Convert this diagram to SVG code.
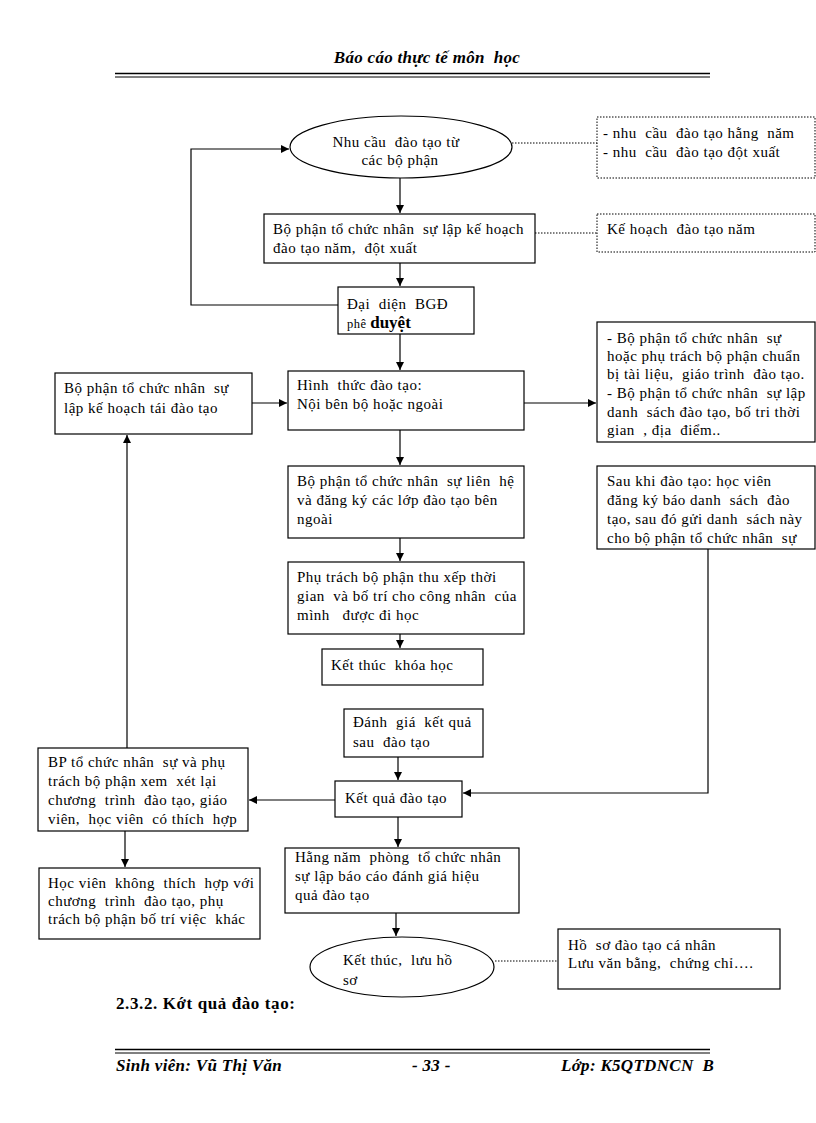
<svg xmlns="http://www.w3.org/2000/svg" width="816" height="1123" viewBox="0 0 816 1123">
<style>
.t{font-family:"Liberation Serif","Times New Roman",serif;font-size:15px;letter-spacing:0.5px;fill:#000;white-space:pre}
.b{fill:#fff;stroke:#000;stroke-width:1.2}
.d{fill:#fff;stroke:#000;stroke-width:1;stroke-dasharray:1.5 1.5}
.l{fill:none;stroke:#000;stroke-width:1.2}
.dl{fill:none;stroke:#000;stroke-width:1;stroke-dasharray:1.5 1.5}
.hd{font-family:"Liberation Serif","Times New Roman",serif;font-size:17px;font-weight:bold;font-style:italic;fill:#000;letter-spacing:0.3px;white-space:pre}
</style>
<defs>
<marker id="ah" markerWidth="8" markerHeight="8" refX="8" refY="4" orient="auto" markerUnits="userSpaceOnUse">
<path d="M0,0 L8,4 L0,8 z" fill="#000"/>
</marker>
</defs>
<rect width="816" height="1123" fill="#fff"/>

<g id="header">
<text class="hd" x="427" y="63" text-anchor="middle">Báo cáo thực tế môn  học</text>
<line x1="115" y1="73.5" x2="710" y2="73.5" stroke="#000" stroke-width="1.5"/>
<line x1="115" y1="77" x2="710" y2="77" stroke="#000" stroke-width="1"/>
</g>

<g id="connectors">
<line class="l" x1="400" y1="178" x2="400" y2="213" marker-end="url(#ah)"/>
<line class="l" x1="400" y1="263" x2="400" y2="286" marker-end="url(#ah)"/>
<polyline class="l" points="338,305 191,305 191,149 289,149" marker-end="url(#ah)"/>
<line class="l" x1="400" y1="334" x2="400" y2="370" marker-end="url(#ah)"/>
<line class="l" x1="252" y1="403" x2="287" y2="403" marker-end="url(#ah)"/>
<line class="l" x1="524" y1="403" x2="596" y2="403" marker-end="url(#ah)"/>
<line class="l" x1="400" y1="430" x2="400" y2="465" marker-end="url(#ah)"/>
<line class="l" x1="400" y1="538" x2="400" y2="561" marker-end="url(#ah)"/>
<line class="l" x1="400" y1="634" x2="400" y2="648" marker-end="url(#ah)"/>
<line class="l" x1="398" y1="757" x2="398" y2="780" marker-end="url(#ah)"/>
<polyline class="l" points="708,549 708,793 463,793" marker-end="url(#ah)"/>
<line class="l" x1="335" y1="800" x2="249" y2="800" marker-end="url(#ah)"/>
<line class="l" x1="127" y1="748" x2="127" y2="435" marker-end="url(#ah)"/>
<line class="l" x1="125" y1="831" x2="125" y2="867" marker-end="url(#ah)"/>
<line class="l" x1="398" y1="817" x2="398" y2="847" marker-end="url(#ah)"/>
<line class="l" x1="396" y1="913" x2="396" y2="936" marker-end="url(#ah)"/>
<line class="dl" x1="512" y1="143" x2="597" y2="143"/>
<line class="dl" x1="535" y1="233" x2="597" y2="233"/>
<line class="dl" x1="495" y1="961" x2="558" y2="961"/>
</g>

<g id="n1">
<ellipse class="b" cx="401" cy="147" rx="111" ry="31"/>
<text class="t" x="396" y="147" text-anchor="middle">Nhu cầu  đào tạo từ</text>
<text class="t" x="400" y="165" text-anchor="middle">các bộ phận</text>
</g>
<g id="n1note">
<rect class="d" x="597" y="117" width="218" height="61"/>
<text class="t" x="603" y="138">- nhu  cầu  đào tạo hằng  năm</text>
<text class="t" x="603" y="157">- nhu  cầu  đào tạo đột xuất</text>
</g>
<g id="n2">
<rect class="b" x="264" y="214" width="271" height="49"/>
<text class="t" x="273" y="234">Bộ phận tổ chức nhân  sự lập kế hoạch</text>
<text class="t" x="273" y="253">đào tạo năm,  đột xuất</text>
</g>
<g id="n2note">
<rect class="d" x="597" y="214" width="218" height="38"/>
<text class="t" x="607" y="234">Kế hoạch  đào tạo năm</text>
</g>
<g id="n3">
<rect class="b" x="338" y="287" width="136" height="47"/>
<text class="t" x="347" y="309">Đại  diện  BGĐ</text>
<text class="t" x="347" y="328"><tspan font-size="12.5">phê </tspan><tspan font-size="17" font-weight="bold" letter-spacing="0">duyệt</tspan></text>
</g>
<g id="n4">
<rect class="b" x="288" y="371" width="236" height="59"/>
<text class="t" x="297" y="390">Hình  thức đào tạo:</text>
<text class="t" x="297" y="409">Nội bên bộ hoặc ngoài</text>
</g>
<g id="n4left">
<rect class="b" x="55" y="373" width="197" height="61"/>
<text class="t" x="64" y="393">Bộ phận tổ chức nhân  sự</text>
<text class="t" x="64" y="413">lập kế hoạch tái đào tạo</text>
</g>
<g id="n4right">
<rect class="b" x="597" y="322" width="218" height="120"/>
<text class="t" x="607" y="343">- Bộ phận tổ chức nhân  sự</text>
<text class="t" x="607" y="361">hoặc phụ trách bộ phận chuẩn</text>
<text class="t" x="607" y="379">bị tài liệu,  giáo trình  đào tạo.</text>
<text class="t" x="607" y="398">- Bộ phận tổ chức nhân  sự lập</text>
<text class="t" x="607" y="417">danh  sách đào tạo, bố tri thời</text>
<text class="t" x="607" y="435">gian  , địa  điểm..</text>
</g>
<g id="n5">
<rect class="b" x="288" y="466" width="236" height="72"/>
<text class="t" x="297" y="486">Bộ phận tổ chức nhân  sự liên  hệ</text>
<text class="t" x="297" y="505">và đăng ký các lớp đào tạo bên</text>
<text class="t" x="297" y="524">ngoài</text>
</g>
<g id="n5right">
<rect class="b" x="597" y="466" width="218" height="83"/>
<text class="t" x="607" y="486">Sau khi đào tạo: học viên</text>
<text class="t" x="607" y="505">đăng ký báo danh  sách  đào</text>
<text class="t" x="607" y="524">tạo, sau đó gửi danh  sách này</text>
<text class="t" x="607" y="543">cho bộ phận tổ chức nhân  sự</text>
</g>
<g id="n6">
<rect class="b" x="288" y="562" width="236" height="72"/>
<text class="t" x="297" y="582">Phụ trách bộ phận thu xếp thời</text>
<text class="t" x="297" y="601">gian  và bố trí cho công nhân  của</text>
<text class="t" x="297" y="620">mình   được đi học</text>
</g>
<g id="n7">
<rect class="b" x="322" y="649" width="161" height="36"/>
<text class="t" x="331" y="670">Kết thúc  khóa học</text>
</g>
<g id="n8">
<rect class="b" x="344" y="709" width="139" height="48"/>
<text class="t" x="353" y="727">Đánh  giá  kết quả</text>
<text class="t" x="353" y="747">sau  đào tạo</text>
</g>
<g id="n9">
<rect class="b" x="335" y="781" width="127" height="36"/>
<text class="t" x="345" y="803">Kết quả đào tạo</text>
</g>
<g id="n9left">
<rect class="b" x="38" y="748" width="210" height="83"/>
<text class="t" x="48" y="767">BP tổ chức nhân  sự và phụ</text>
<text class="t" x="48" y="786">trách bộ phận xem  xét lại</text>
<text class="t" x="48" y="805">chương  trình  đào tạo, giáo</text>
<text class="t" x="48" y="824">viên,  học viên  có thích  hợp</text>
</g>
<g id="n10">
<rect class="b" x="39" y="868" width="221" height="71"/>
<text class="t" x="48" y="888">Học viên  không  thích  hợp với</text>
<text class="t" x="48" y="906">chương  trình  đào tạo, phụ</text>
<text class="t" x="48" y="924">trách bộ phận bố trí việc  khác</text>
</g>
<g id="n11">
<rect class="b" x="285" y="848" width="234" height="65"/>
<text class="t" x="295" y="862">Hằng năm  phòng  tổ chức nhân</text>
<text class="t" x="295" y="881">sự lập báo cáo đánh giá hiệu</text>
<text class="t" x="295" y="900">quả đào tạo</text>
</g>
<g id="n12">
<ellipse class="b" cx="402" cy="967" rx="92" ry="30"/>
<text class="t" x="343" y="965">Kết thúc,  lưu hồ</text>
<text class="t" x="343" y="985">sơ</text>
</g>
<g id="n12note">
<rect class="b" x="558" y="929" width="222" height="60"/>
<text class="t" x="568" y="950">Hồ  sơ đào tạo cá nhân</text>
<text class="t" x="568" y="968">Lưu văn bằng,  chứng chỉ….</text>
</g>

<g id="section">
<text x="116" y="1009" font-family="'Liberation Serif','Times New Roman',serif" font-size="17" letter-spacing="0.6" font-weight="bold">2.3.2. Kớt quả đào tạo:</text>
</g>

<g id="footer">
<line x1="115" y1="1049.5" x2="710" y2="1049.5" stroke="#000" stroke-width="1.5"/>
<line x1="115" y1="1053" x2="710" y2="1053" stroke="#000" stroke-width="1"/>
<text class="hd" x="116" y="1071">Sinh viên: Vũ Thị Văn</text>
<text class="hd" x="412" y="1071">- 33 -</text>
<text class="hd" x="561" y="1071">Lớp: K5QTDNCN  B</text>
</g>
</svg>
